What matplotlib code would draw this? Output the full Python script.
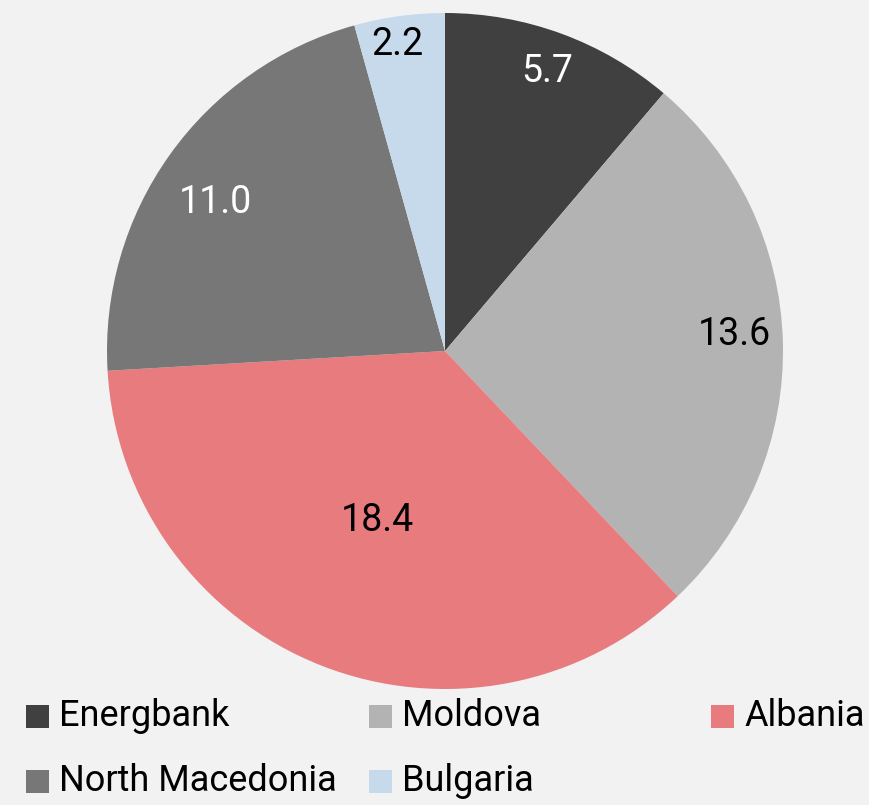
import numpy as np
import matplotlib.pyplot as plt
from matplotlib.patches import Rectangle

plt.rcParams['font.family'] = ['Roboto', 'DejaVu Sans']

labels = ['Energbank', 'Moldova', 'Albania', 'North Macedonia', 'Bulgaria']
values = [5.7, 13.6, 18.4, 11.0, 2.2]
colors = ['#404040', '#b3b3b3', '#e87b7e', '#777777', '#c6daec']
text_colors = ['white', 'black', 'black', 'white', 'black']
# label placement (fraction of radius, angle tweak in degrees)
label_r = [0.88, 0.858, 0.54, 0.809, 0.919]
label_da = [0.0, 1.6, 0.0, 2.7, 1.1]

W, H = 869, 805
fig = plt.figure(figsize=(W / 100, H / 100), dpi=100)
fig.patch.set_facecolor('#f2f2f2')

cx, cy, R = 445, 351, 338
ax = fig.add_axes([(cx - R) / W, (H - cy - R) / H, 2 * R / W, 2 * R / H])
ax.set_facecolor('#f2f2f2')
wedges, _ = ax.pie(values, colors=colors, startangle=90, counterclock=False,
                   radius=1, wedgeprops=dict(linewidth=0))
ax.set_xlim(-1, 1)
ax.set_ylim(-1, 1)
ax.set_aspect('equal')
ax.axis('off')

for w, v, tc, r, da in zip(wedges, values, text_colors, label_r, label_da):
    ang = np.deg2rad((w.theta1 + w.theta2) / 2 + da)
    ax.text(r * np.cos(ang), r * np.sin(ang), f'{v:.1f}', color=tc,
            fontsize=27, ha='center', va='center')

# legend laid out like the original (row-wise, fixed column starts)
col_x = [26, 369, 711]
row_y = [716, 781]
sq = 23
for i, (lab, c) in enumerate(zip(labels, colors)):
    row, col = divmod(i, 3)
    x, y = col_x[col], row_y[row]
    fig.add_artist(Rectangle((x / W, (H - y - sq / 2) / H), sq / W, sq / H,
                             transform=fig.transFigure, facecolor=c, edgecolor='none'))
    fig.text((x + 33) / W, (H - y) / H, lab, fontsize=26,
             ha='left', va='center')

fig.savefig('out.png', dpi=100, facecolor=fig.get_facecolor())
